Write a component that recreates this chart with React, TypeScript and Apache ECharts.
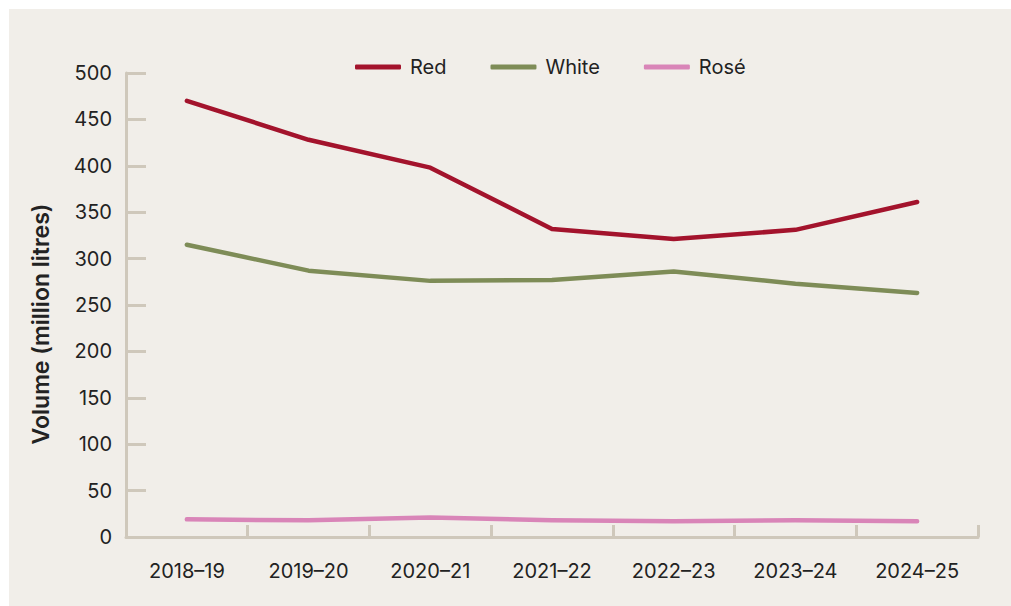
import React, { useEffect, useRef } from "react";
import * as echarts from "echarts";

const categories = ["2018–19", "2019–20", "2020–21", "2021–22", "2022–23", "2023–24", "2024–25"];
const redValues = [470, 428, 398, 332, 321, 331, 361];
const whiteValues = [315, 287, 276, 277, 286, 273, 263];
const roseValues = [19, 18, 21, 18, 17, 18, 17];
const yTicks = { min: 0, max: 500, interval: 50 };

const AXIS = "#cfc8bb";
const TEXT = "#222222";
const FONT = "Inter, 'Noto Sans', sans-serif";

export default function App() {
  const ref = useRef<HTMLDivElement>(null);
  useEffect(() => {
    document.body.style.margin = "0";
    const chart = echarts.init(ref.current!, undefined, { renderer: "svg" });
    const mk = (name: string, data: number[], color: string) => ({
      name,
      type: "line",
      data,
      showSymbol: false,
      symbol: "none",
      lineStyle: { color, width: 4.5, cap: "round", join: "round" },
      itemStyle: { color },
    });
    chart.setOption({
      animation: false,
      backgroundColor: "#f1eee9",
      textStyle: { fontFamily: FONT },
      grid: { left: 117, right: 33, top: 64, bottom: 69 },
      legend: {
        left: 341,
        top: 43,
        icon: "roundRect",
        itemWidth: 46,
        itemHeight: 5,
        itemGap: 44,
        textStyle: { color: TEXT, fontSize: 20, fontFamily: FONT, padding: [0, 0, 0, 4] },
        data: ["Red", "White", "Rosé"],
      },
      xAxis: {
        type: "category",
        data: categories,
        boundaryGap: true,
        axisLine: { lineStyle: { color: AXIS, width: 3 } },
        axisTick: { show: true, inside: true, length: 12, lineStyle: { color: AXIS, width: 3 } },
        axisLabel: { color: TEXT, fontSize: 20, margin: 24, fontFamily: FONT },
        splitLine: { show: false },
      },
      yAxis: {
        type: "value",
        min: yTicks.min,
        max: yTicks.max,
        interval: yTicks.interval,
        axisLine: { show: true, lineStyle: { color: AXIS, width: 3 } },
        axisTick: { show: true, inside: true, length: 20, lineStyle: { color: AXIS, width: 3 } },
        axisLabel: { color: TEXT, fontSize: 20, margin: 14, fontFamily: FONT },
        splitLine: { show: false },
      },
      graphic: [
        {
          type: "text",
          x: 32,
          y: 315,
          rotation: Math.PI / 2,
          style: {
            text: "Volume (million litres)",
            fill: TEXT,
            font: `600 23px ${FONT}`,
            align: "center",
            verticalAlign: "middle",
          },
        },
      ],
      series: [
        mk("Red", redValues, "#a3132c"),
        mk("White", whiteValues, "#7e8c57"),
        mk("Rosé", roseValues, "#d985b8"),
      ],
    });
    return () => chart.dispose();
  }, []);
  return (
    <div style={{ width: 1011, height: 606, background: "#ffffff", position: "relative" }}>
      <div ref={ref} style={{ position: "absolute", left: 9, top: 9, width: 1002, height: 597 }} />
    </div>
  );
}
